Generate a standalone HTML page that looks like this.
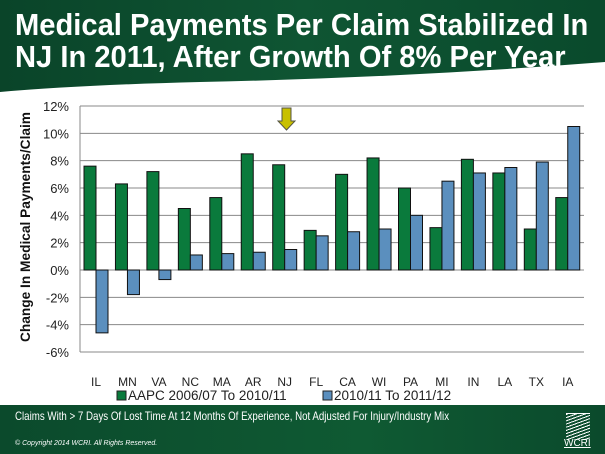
<!DOCTYPE html>
<html><head><meta charset="utf-8"><style>
body{margin:0;width:605px;height:454px;overflow:hidden;background:#fff;font-family:"Liberation Sans",sans-serif;position:relative}
#hdr{position:absolute;left:0;top:0;width:605px;height:100px}
.t{position:absolute;left:15px;color:#fff;font-family:"Liberation Sans",sans-serif;font-weight:bold;font-size:31px;white-space:nowrap;transform:scaleX(0.94);transform-origin:0 0}
#ftr{position:absolute;left:0;top:405px;width:605px;height:49px;background:linear-gradient(90deg,#0b4a2c,#0f5a33 60%,#0b4a2c)}
</style></head><body>
<svg id="hdr" width="605" height="100"><defs><linearGradient id="g" x1="0" x2="1"><stop offset="0" stop-color="#0a4429"/><stop offset="0.5" stop-color="#0f5533"/><stop offset="1" stop-color="#0a4a2c"/></linearGradient></defs>
<path d="M0 0H605V62 Q400 78 200 82 Q80 85 0 92Z" fill="url(#g)"/></svg>
<div class="t" style="top:7px">Medical Payments Per Claim Stabilized In</div>
<div class="t" style="top:39px">NJ In 2011, After Growth Of 8% Per Year</div>
<svg id="c" width="605" height="405" style="position:absolute;left:0;top:0" font-family="Liberation Sans, sans-serif"></svg>
<div id="ftr">
<div style="position:absolute;left:15px;top:4px;color:#fff;font-size:12px;white-space:nowrap;transform:scaleX(0.81);transform-origin:0 0">Claims With &gt; 7 Days Of Lost Time At 12 Months Of Experience, Not Adjusted For Injury/Industry Mix</div>
<div style="position:absolute;left:15px;top:35px;color:#fff;font-size:7px;font-style:italic">© Copyright 2014 WCRI. All Rights Reserved.</div>
<div style="position:absolute;left:566px;top:8px;width:24px;height:26px;border-top:1px solid #fff;background:repeating-linear-gradient(160deg,#fff 0 1px,transparent 1px 3px)"></div>
<div style="position:absolute;left:564px;top:33px;color:#fff;font-size:10px;text-decoration:underline">WCRI</div>
</div>
<script>
var s='',L=80,T=106,S=13.667,W=31.45,zero=T+12*S;
var cats=["IL","MN","VA","NC","MA","AR","NJ","FL","CA","WI","PA","MI","IN","LA","TX","IA"];
var a=[7.6,6.3,7.2,4.5,5.3,8.5,7.7,2.9,7.0,8.2,6.0,3.1,8.1,7.1,3.0,5.3];
var b=[-4.6,-1.8,-0.7,1.1,1.2,1.3,1.5,2.5,2.8,3.0,4.0,6.5,7.1,7.5,7.9,10.5];
for(var i=0;i<=9;i++){var v=12-2*i,y=T+i*2*S;s+='<line x1="'+L+'" x2="584" y1="'+y+'" y2="'+y+'" stroke="#888" stroke-width="1"/>';s+='<text x="69" y="'+(y+5)+'" font-size="13" text-anchor="end" fill="#222">'+v+'%</text>';}
s+='<line x1="'+L+'" x2="'+L+'" y1="'+T+'" y2="'+(T+18*S)+'" stroke="#888"/>';
function bar(x,v,c){var y=v>=0?zero-v*S:zero,h=Math.abs(v)*S;return '<rect x="'+x+'" y="'+y+'" width="12" height="'+h+'" fill="'+c+'" stroke="#111" stroke-width="1"/>';}
for(var i=0;i<16;i++){var x=L+4+i*W;s+=bar(x,a[i],'#0a7a3c')+bar(x+12,b[i],'#5b8fbe');s+='<text x="'+(x+12)+'" y="386" font-size="12" text-anchor="middle" fill="#222">'+cats[i]+'</text>';}
s+='<path d="M282 108h9v13h4l-8.5 9l-8.5-9h4z" fill="#c8c000" stroke="#554" stroke-width="1"/>';
s+='<text transform="translate(30,227) rotate(-90)" font-size="13.5" font-weight="bold" text-anchor="middle" fill="#111" textLength="230" lengthAdjust="spacingAndGlyphs">Change In Medical Payments/Claim</text>';
s+='<rect x="117" y="391" width="9" height="9" fill="#0a7a3c" stroke="#222"/><text x="128" y="400" font-size="13.5" fill="#222">AAPC 2006/07 To 2010/11</text>';
s+='<rect x="323" y="391" width="9" height="9" fill="#5b8fbe" stroke="#222"/><text x="334" y="400" font-size="13.5" fill="#222">2010/11 To 2011/12</text>';
document.getElementById('c').innerHTML=s;
</script>
</body></html>
